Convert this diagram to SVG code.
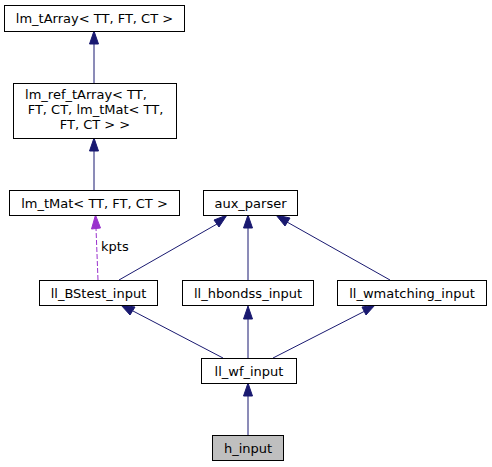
<svg xmlns="http://www.w3.org/2000/svg" width="492" height="467" viewBox="0 0 492 467">
<style>
.n rect{fill:#fff;stroke:#000;stroke-width:1}
.n text{font-family:"DejaVu Sans",sans-serif;font-size:13px;text-anchor:middle;fill:#000}
.e{stroke:#191970;stroke-width:1;fill:none}
.d{stroke:#9a32cd;stroke-width:1;fill:none;stroke-dasharray:5,2}
.ah{fill:#191970;stroke:#191970}
.ap{fill:#9a32cd;stroke:#9a32cd}
.lbl{font-family:"DejaVu Sans",sans-serif;font-size:13px;fill:#000}
</style>
<rect width="492" height="467" fill="#fff"/>
<g id="edges">
<path class="e" d="M94,83 L94,43"/><polygon class="ah" points="89.5,44 94,31 98.5,44"/>
<path class="e" d="M94,190 L94,150"/><polygon class="ah" points="89.5,151 94,138 98.5,151"/>
<path class="d" d="M98,280 L96,228"/><polygon class="ap" points="91.5,229 95.5,215 100.5,228"/>
<path class="e" d="M119,280 L217,224"/><polygon class="ah" points="214,220 227,215 219,227"/>
<path class="e" d="M248,280 L248,228"/><polygon class="ah" points="243.5,228 248,215 252.5,228"/>
<path class="e" d="M390,280 L287,222"/><polygon class="ah" points="285,226 276,215 290,218"/>
<path class="e" d="M223,358 L133,311"/><polygon class="ah" points="130,315 121,305 135,307"/>
<path class="e" d="M248,358 L248,319"/><polygon class="ah" points="243.5,319 248,306 252.5,319"/>
<path class="e" d="M273,358 L365,311"/><polygon class="ah" points="362,307 375,305 366,315"/>
<path class="e" d="M248,435 L248,396"/><polygon class="ah" points="243.5,396 248,383 252.5,396"/>
<text class="lbl" x="101" y="251">kpts</text>
</g>
<g id="lm_tArray" class="n"><rect x="4.5" y="5.5" width="180" height="26"/><text x="94.5" y="23">lm_tArray&lt; TT, FT, CT &gt;</text></g>
<g id="lm_ref_tArray" class="n"><rect x="13.5" y="83.5" width="163" height="55"/><text x="86" y="99">lm_ref_tArray&lt; TT,</text><text x="95.5" y="114">FT, CT, lm_tMat&lt; TT,</text><text x="95" y="129">FT, CT &gt; &gt;</text></g>
<g id="lm_tMat" class="n"><rect x="9.5" y="190.5" width="170" height="25"/><text x="94.5" y="207.5">lm_tMat&lt; TT, FT, CT &gt;</text></g>
<g id="aux_parser" class="n"><rect x="203.5" y="190.5" width="94" height="25"/><text x="250.5" y="207.5">aux_parser</text></g>
<g id="ll_BStest_input" class="n"><rect x="39.5" y="280.5" width="118" height="25"/><text x="98.5" y="297.5">ll_BStest_input</text></g>
<g id="ll_hbondss_input" class="n"><rect x="182.5" y="280.5" width="131" height="25"/><text x="248" y="297.5">ll_hbondss_input</text></g>
<g id="ll_wmatching_input" class="n"><rect x="337.5" y="280.5" width="149" height="25"/><text x="412" y="297.5">ll_wmatching_input</text></g>
<g id="ll_wf_input" class="n"><rect x="201.5" y="358.5" width="95" height="25"/><text x="249" y="375.5">ll_wf_input</text></g>
<g id="h_input" class="n"><rect x="212.5" y="435.5" width="71" height="25" style="fill:#bfbfbf"/><text x="248" y="452.5">h_input</text></g>
</svg>
